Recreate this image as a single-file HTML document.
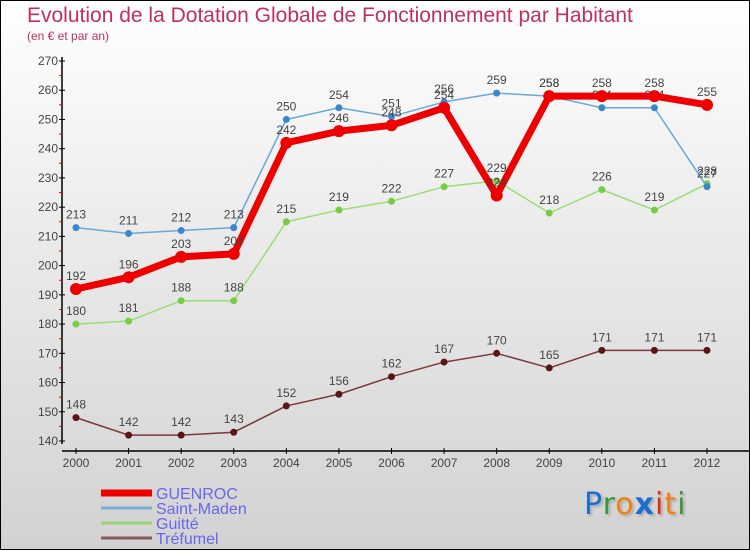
<!DOCTYPE html>
<html><head><meta charset="utf-8"><style>
html,body{margin:0;padding:0}
body{width:750px;height:550px;overflow:hidden;font-family:"Liberation Sans",sans-serif}
#wrap{position:relative;width:748px;height:548px;border:1px solid #000;background:linear-gradient(#fff 0%,#ececec 40%,#d2d2d2 100%)}
.t{position:absolute;color:#c0305f}
</style></head><body>
<div id="wrap">
<div class="t" style="left:26px;top:3px;font-size:21px">Evolution de la Dotation Globale de Fonctionnement par Habitant</div>
<div class="t" style="left:26px;top:28px;font-size:12px">(en € et par an)</div>
<svg id="c" width="750" height="550" style="position:absolute;left:0;top:0"></svg>
<div style="position:absolute;left:583px;top:486px;font-size:30px;font-family:'DejaVu Sans',sans-serif;letter-spacing:1px;text-shadow:2px 2px 2px #aaa"><span style="color:#1a6fd0">P</span><span style="color:#3a9a3a">r</span><span style="color:#f08010">o</span><span style="color:#1a6fd0;font-weight:bold">x</span><span style="color:#e03010">i</span><span style="color:#f08010">t</span><span style="color:#3a9a3a">i</span></div>
</div>
<script>
const years=[2000,2001,2002,2003,2004,2005,2006,2007,2008,2009,2010,2011,2012];
const yTicks=[140,150,160,170,180,190,200,210,220,230,240,250,260,270];
const guenroc=[192,196,203,204,242,246,248,254,224,258,258,258,255];
const saintMaden=[213,211,212,213,250,254,251,256,259,258,254,254,227];
const guitte=[180,181,188,188,215,219,222,227,229,218,226,219,228];
const trefumel=[148,142,142,143,152,156,162,167,170,165,171,171,171];
const NS="http://www.w3.org/2000/svg";
const svg=document.getElementById('c');
function X(i){return 75+i*(706-75)/12;}
function Y(v){return 440-(v-140)*(380/130);}
function el(t,a,p){const e=document.createElementNS(NS,t);for(const k in a)e.setAttribute(k,a[k]);(p||svg).appendChild(e);return e;}
// axes
const ya=el('line',{x1:61,y1:56,x2:61,y2:443,stroke:'#000','stroke-width':1.5});


const xa=el('line',{x1:61,y1:450,x2:750,y2:450,stroke:'#000','stroke-width':1.5});


yTicks.forEach(v=>{
  el('line',{x1:58,y1:Y(v),x2:64,y2:Y(v),stroke:'#000'});
  if(v<270)el('line',{x1:58,y1:Y(v+5),x2:61,y2:Y(v+5),stroke:'#e00'});
  const t=el('text',{x:57,y:Y(v)+4,'text-anchor':'end','font-size':12,fill:'#444'});
  t.textContent=v;
  
  
});
years.forEach((y,i)=>{
  el('line',{x1:X(i),y1:447,x2:X(i),y2:453,stroke:'#000'});
  const t=el('text',{x:X(i),y:466,'text-anchor':'middle','font-size':12,fill:'#444'});
  t.textContent=y;
  
  
});
function series(name,data,color,w,r,dot){
  const g=el('g',{});
  
  
  el('polyline',{points:data.map((v,i)=>X(i)+','+Y(v)).join(' '),fill:'none',stroke:color,'stroke-width':w,'stroke-linejoin':'round'},g);
  data.forEach((v,i)=>{
    const c=el('circle',{cx:X(i),cy:Y(v),r:r,fill:dot},g);
    
    
    const t=el('text',{x:X(i),y:Y(v)-9,'text-anchor':'middle','font-size':12,fill:'#444'},g);
    t.textContent=v;
    
    
  });
}
series('trefumel',trefumel,'#7a3a3a',1.5,3.5,'#5a1515');
series('guitte',guitte,'#99dd77',1.5,3.5,'#77cc44');
series('saint-maden',saintMaden,'#6aa8d8',1.5,3.5,'#3a88cc');
series('guenroc',guenroc,'#ee0000',7,6,'#ee0000');
// legend
const leg=[['GUENROC','#ee0000',7],['Saint-Maden','#7aaed0',3],['Guitté','#99d27a',3],['Tréfumel','#8a5a5a',3]];
leg.forEach((l,i)=>{
  const y=492+i*15;
  const g=el('g',{});
  
  
  el('line',{x1:100,y1:y,x2:151,y2:y,stroke:l[1],'stroke-width':l[2]},g);
  const t=el('text',{x:155,y:y+6,'font-size':16,fill:'#6666ee'},g);
  t.textContent=l[0];
});
</script>
</body></html>
